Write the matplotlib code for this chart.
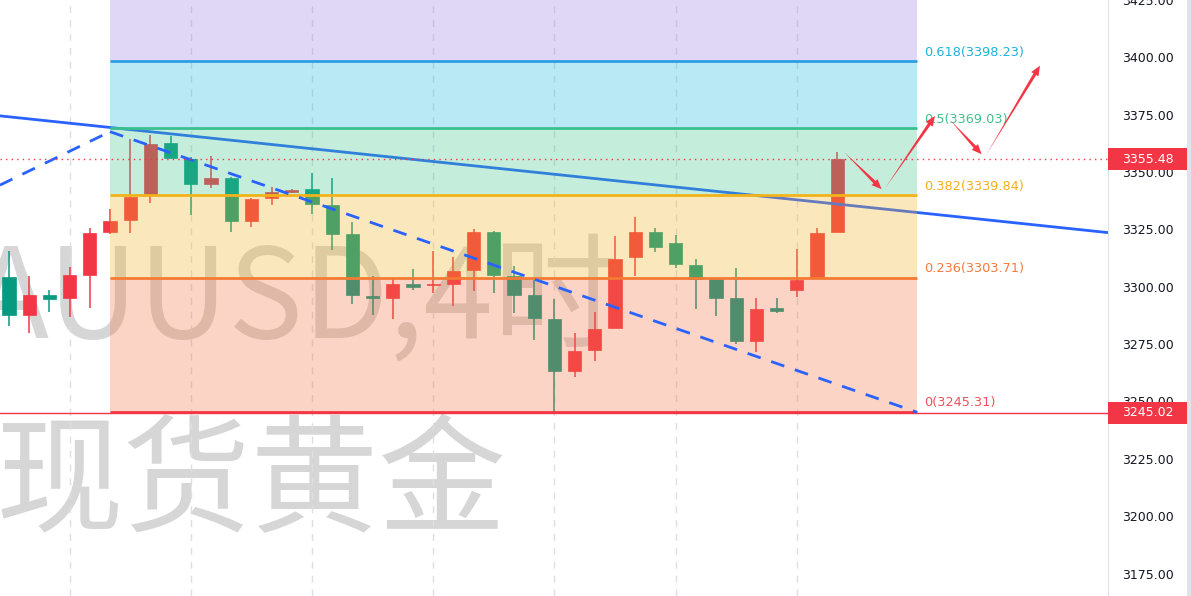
import numpy as np
import matplotlib
matplotlib.use('Agg')
import matplotlib.pyplot as plt
from matplotlib.patches import Polygon, Rectangle
from matplotlib.transforms import IdentityTransform, blended_transform_factory

# 4h candles (red = up, teal = down)
opens = [3304.3, 3287.6, 3296.3, 3294.9, 3305.1, 3323.9, 3329.0, 3340.3, 3362.7, 3355.9,
         3345.0, 3347.2, 3328.7, 3338.5, 3341.1, 3342.8, 3335.8, 3323.2, 3295.9, 3294.9,
         3301.0, 3300.6, 3301.4, 3307.2, 3323.9, 3304.8, 3296.3, 3285.9, 3263.4, 3272.4,
         3282.1, 3313.0, 3323.9, 3318.9, 3309.4, 3303.2, 3295.3, 3276.4, 3290.8, 3298.8,
         3304.3, 3323.9]
highs = [3315.5, 3304.7, 3298.5, 3308.7, 3325.4, 3334.1, 3364.2, 3366.0, 3365.7, 3356.4,
         3356.9, 3347.7, 3338.9, 3343.5, 3342.8, 3349.8, 3347.2, 3328.3, 3304.6, 3303.2,
         3307.7, 3315.5, 3312.8, 3325.1, 3324.4, 3309.0, 3302.9, 3294.6, 3279.7, 3289.1,
         3322.0, 3330.4, 3325.4, 3322.5, 3311.9, 3303.3, 3308.0, 3295.3, 3295.3, 3316.4,
         3325.4, 3358.8]
lows = [3282.8, 3279.7, 3289.1, 3286.9, 3290.8, 3322.8, 3323.5, 3336.5, 3356.1, 3331.2,
        3343.1, 3323.9, 3326.1, 3335.5, 3341.0, 3331.9, 3315.9, 3292.4, 3287.6, 3285.8,
        3298.8, 3297.3, 3291.6, 3298.2, 3297.3, 3288.4, 3276.7, 3245.2, 3260.8, 3267.7,
        3282.0, 3304.7, 3315.2, 3308.0, 3290.1, 3287.2, 3275.0, 3271.6, 3288.4, 3295.6,
        3304.3, 3323.9]
closes = [3287.6, 3296.6, 3294.5, 3305.1, 3323.6, 3328.7, 3339.2, 3362.4, 3356.3, 3345.0,
          3347.2, 3328.6, 3338.2, 3341.2, 3342.1, 3336.0, 3323.2, 3296.3, 3295.2, 3301.0,
          3299.7, 3301.4, 3306.9, 3323.9, 3305.1, 3296.3, 3286.5, 3263.4, 3272.1, 3281.8,
          3312.3, 3323.9, 3317.4, 3309.8, 3303.6, 3295.3, 3276.4, 3290.5, 3289.4, 3302.9,
          3323.5, 3355.48]

# fibonacci retracement
fib_ratios = [0, 0.236, 0.382, 0.5, 0.618, 0.786]
fib_prices = [3245.31, 3303.71, 3339.84, 3369.03, 3398.23, 3439.80]
fib_colors = ['#f23645', '#f7733f', '#f5b223', '#41c68a', '#16b9e1', '#987dde']
fib_line_colors = ['#f23645', '#f57a35', '#f2b31a', '#3cbf8f', '#2c9fe0', '#987dde']
fib_label_colors = ['#f0505a', '#f57a3c', '#f5ae1c', '#41c08a', '#1eb2d8', '#987dde']
fib_start, fib_end = 5.0, 44.95

# trend lines (candle index, price)
trend_solid = [(-0.45, 3374.5), (54.41, 3323.6)]
trend_dash_up = [(-0.45, 3344.3), (5.0, 3367.6)]
trend_dash_down = [(5.0, 3367.6), (44.95, 3245.31)]

# hand drawn arrows
arrows = [((41.35, 3358.5), (43.2, 3342.4)),
          ((43.37, 3342.8), (45.84, 3374.3)),
          ((46.58, 3372.6), (48.15, 3357.6)),
          ((48.37, 3357.3), (51.04, 3396.2))]

last_price = 3355.48
low_price = 3245.02
yticks = np.arange(3175, 3426, 25)
day_lines = [3, 9, 15, 21, 27, 33, 39]

UP = '#f23645'
DOWN = '#089981'
BLUE = '#2962ff'
WM = '#d6d6d6'
WM_FONT = ['Noto Sans CJK SC', 'DejaVu Sans']

fig = plt.figure(figsize=(11.91, 5.96), dpi=100)
ax = fig.add_axes([0, 0, 1108 / 1191, 1])
ax.set_xlim(-0.4455, 54.406)
ax.set_ylim(3165.2, 3424.8)

# watermark
ax.text(-28 / 1108, 1 - 338 / 596, 'AUUSD,4时', transform=ax.transAxes, fontsize=90,
        color=WM, family=WM_FONT, va='baseline', ha='left', zorder=0)
ax.text(-4 / 1108, 1 - 522 / 596, '现货黄金', transform=ax.transAxes, fontsize=92,
        color=WM, family=WM_FONT, va='baseline', ha='left', zorder=0)

# day grid
for d in day_lines:
    ax.axvline(d, color='#dcdfe6', lw=1, ls=(0, (5, 5)), zorder=0.5)

# candles
x = np.arange(len(opens))
o = np.array(opens); c = np.array(closes)
cols = [UP if cc >= oo else DOWN for oo, cc in zip(o, c)]
ax.vlines(x, lows, highs, colors=cols, lw=1.1, zorder=1)
ax.bar(x, np.maximum(np.abs(c - o), 0.6), bottom=np.minimum(o, c), width=0.66,
       color=cols, edgecolor=cols, lw=0.5, zorder=1.1)

# solid trend line (under the fib zones)
ax.plot([p[0] for p in trend_solid], [p[1] for p in trend_solid], color=BLUE, lw=2, zorder=2)

# fib zones and lines
for k in range(1, len(fib_prices)):
    ax.fill_between([fib_start, fib_end], fib_prices[k - 1], fib_prices[k],
                    color=fib_colors[k], alpha=0.3, lw=0, zorder=3)
for k in range(len(fib_prices) - 1):
    ax.plot([fib_start, fib_end], [fib_prices[k]] * 2, color=fib_line_colors[k], lw=2,
            zorder=4, solid_capstyle='butt')
    ax.annotate(f'{fib_ratios[k]:g}({fib_prices[k]:.2f})', (45.3, fib_prices[k]),
                xytext=(0, 2), textcoords='offset points', va='bottom', ha='left',
                fontsize=9.3, color=fib_label_colors[k], zorder=6)

# dashed trend lines
for seg in (trend_dash_up, trend_dash_down):
    ax.plot([p[0] for p in seg], [p[1] for p in seg], color=BLUE, lw=2,
            ls=(0, (5, 4)), zorder=5)

# price lines
ax.axhline(last_price, color=UP, lw=1, ls=(0, (1, 3)), zorder=5)
ax.axhline(low_price, color=UP, lw=1, zorder=4.5)


def taper_arrow(p0, p1, color=UP):
    a = ax.transData.transform(p0)
    b = ax.transData.transform(p1)
    d = b - a
    u = d / np.hypot(*d)
    n = np.array([-u[1], u[0]])
    base = b - u * 10
    pts = [a, base + n * 1.6, base + n * 4.2, b, base - n * 4.2, base - n * 1.6]
    ax.add_patch(Polygon(pts, closed=True, transform=IdentityTransform(), fc=color,
                         ec='none', zorder=7))


for p0, p1 in arrows:
    taper_arrow(p0, p1)

# right price axis
ax.yaxis.tick_right()
ax.set_yticks(yticks)
ax.set_yticklabels([f'{v:.2f}' for v in yticks])
ax.tick_params(axis='y', length=0, pad=10, labelsize=9, labelcolor='#131722')
ax.set_xticks([])
for s in ['top', 'bottom', 'left']:
    ax.spines[s].set_visible(False)
ax.spines['right'].set_color('#dfe2ea')

tr = blended_transform_factory(ax.transAxes, ax.transData)
box_w = (1187 - 1108) / 1108
for price in (last_price, low_price):
    ax.add_patch(Rectangle((1.0, price - 4.8), box_w, 9.6, transform=tr, fc=UP, ec='none',
                           clip_on=False, zorder=10))
    ax.text(1.0 + box_w / 2, price, f'{price:.2f}', transform=tr, ha='center', va='center',
            color='white', fontsize=9, zorder=11, clip_on=False)

fig.patches.append(Rectangle((1187 / 1191, 0), 4 / 1191, 1, transform=fig.transFigure,
                             fc='#e0e3eb', ec='none'))

fig.savefig('out.png', dpi=100)
